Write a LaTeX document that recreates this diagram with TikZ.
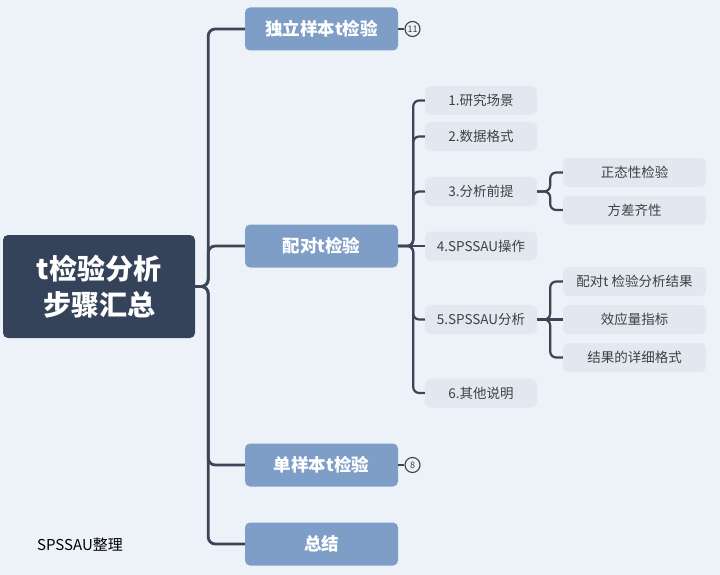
\documentclass[tikz,border=0pt]{standalone}
\usepackage{fontspec}
\newfontfamily\cjk{Noto Sans CJK SC}
\usetikzlibrary{positioning}
\definecolor{bgcol}{HTML}{EDF2F9}
\definecolor{rootcol}{HTML}{34435A}
\definecolor{topiccol}{HTML}{7F9EC7}
\definecolor{subcol}{HTML}{E2E8F0}
\definecolor{linecol}{HTML}{3A4558}
\definecolor{subtext}{HTML}{404040}

\tikzset{
  rootbox/.style={fill=rootcol, rounded corners=5pt, text=white, align=center,
    minimum width=192pt, minimum height=103pt,
    font=\cjk\bfseries\fontsize{28}{36}\selectfont},
  topicbox/.style={fill=topiccol, rounded corners=5pt, text=white,
    minimum width=153pt, minimum height=43pt,
    font=\cjk\bfseries\fontsize{17.5}{21}\selectfont},
  subbox/.style={fill=subcol, rounded corners=6pt, text=subtext,
    minimum width=112pt, minimum height=29pt,
    font=\cjk\fontsize{13.5}{16}\selectfont},
  leafbox/.style={subbox, minimum width=143pt},
  countmark/.style={circle, draw=subtext, fill=bgcol, inner sep=0pt, minimum size=15pt,
    line width=1.1pt, text=subtext, font=\cjk\fontsize{9}{10}\selectfont},
  trunkline/.style={draw=linecol, line width=2.8pt, rounded corners=7pt},
  branchline/.style={draw=linecol, line width=2.2pt, rounded corners=6pt}
}

\begin{document}
\begin{tikzpicture}[x=1pt,y=-1pt]
\fill[bgcol] (0,0) rectangle (720,575);
\useasboundingbox (0,0) rectangle (720,575);

% root
\node[rootbox] (root) at (99,286.5) {t检验分析\\步骤汇总};

% main topics
\node[topicbox] (indep) at (321.5,29) {独立样本t检验};
\node[topicbox] (paired) at (321.5,246) {配对t检验};
\node[topicbox] (single) at (321.5,465) {单样本t检验};
\node[topicbox] (summary) at (321.5,544) {总结};

\foreach \n in {indep,paired,single,summary}
  \draw[trunkline] (root.east) -- ++(13,0) |- (\n.west);

% collapsed counts
\node[countmark] (cntindep) at (412.5,29) {11};
\node[countmark] (cntsingle) at (412.5,465) {8};
\draw[linecol, line width=1.2pt] (indep.east) -- (cntindep);
\draw[linecol, line width=1.2pt] (single.east) -- (cntsingle);

% steps of the paired test
\node[subbox] (s1) at (481,100.5) {1.研究场景};
\node[subbox] (s2) at (481,136.5) {2.数据格式};
\node[subbox] (s3) at (481,191.5) {3.分析前提};
\node[subbox] (s4) at (481,246) {4.SPSSAU操作};
\node[subbox] (s5) at (481,319.5) {5.SPSSAU分析};
\node[subbox] (s6) at (481,393) {6.其他说明};

\foreach \n in {s1,s2,s3,s5,s6}
  \draw[branchline] (paired.east) -- ++(15,0) |- (\n.west);
\draw[branchline] (paired.east) -- (s4.west);

% assumptions
\node[leafbox] (normal) at (634.5,172.5) {正态性检验};
\node[leafbox] (variance) at (634.5,210) {方差齐性};
\foreach \n in {normal,variance}
  \draw[branchline] (s3.east) -- ++(13,0) |- (\n.west);

% analysis output
\node[leafbox] (result) at (634.5,281.5) {配对t 检验分析结果};
\node[leafbox] (effect) at (634.5,319.5) {效应量指标};
\node[leafbox] (format) at (634.5,357.5) {结果的详细格式};
\foreach \n in {result,format}
  \draw[branchline] (s5.east) -- ++(13,0) |- (\n.west);
\draw[branchline] (s5.east) -- (effect.west);

\node[font=\cjk\fontsize{15}{18}\selectfont] (credit) at (80,545) {SPSSAU整理};
\end{tikzpicture}
\end{document}
